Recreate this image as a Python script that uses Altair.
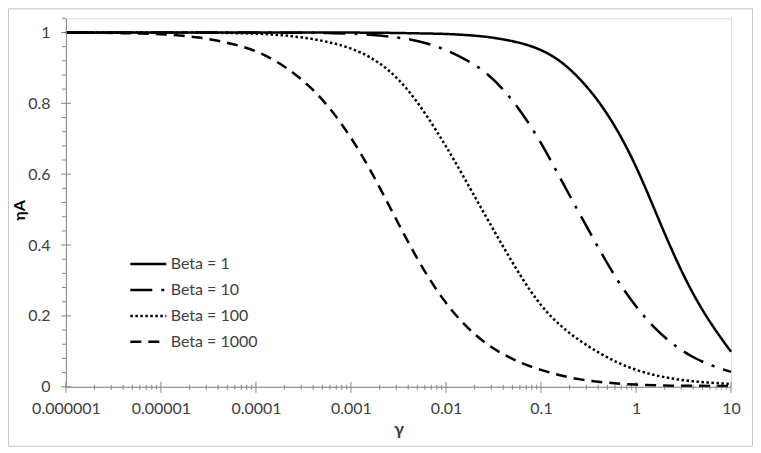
import altair as alt
import pandas as pd

# log10(gamma) grid shared by all series
log_gamma = [-6.0, -5.8, -5.6, -5.4, -5.2, -5.0, -4.8, -4.6, -4.4, -4.2,
             -4.0, -3.8, -3.6, -3.4, -3.2, -3.0, -2.8, -2.6, -2.4, -2.2,
             -2.0, -1.8, -1.6, -1.4, -1.2, -1.0, -0.8, -0.6, -0.4, -0.2,
             0.0, 0.2, 0.4, 0.6, 0.8, 1.0]

eta_beta1 = [1.0, 1.0, 1.0, 1.0, 1.0, 1.0, 1.0, 1.0, 1.0, 1.0,
             1.0, 1.0, 1.0, 1.0, 1.0, 1.0, 0.999, 0.999, 0.998, 0.997,
             0.996, 0.993, 0.989, 0.981, 0.970, 0.952, 0.922, 0.873, 0.810, 0.728,
             0.625, 0.497, 0.370, 0.260, 0.172, 0.099]

eta_beta10 = [1.0, 1.0, 1.0, 1.0, 1.0, 1.0, 1.0, 1.0, 1.0, 1.0,
              1.0, 1.0, 0.999, 0.999, 0.998, 0.997, 0.994, 0.989, 0.982, 0.970,
              0.951, 0.925, 0.893, 0.842, 0.774, 0.690, 0.590, 0.491, 0.394, 0.300,
              0.225, 0.163, 0.117, 0.082, 0.059, 0.042]

eta_beta100 = [1.0, 1.0, 1.0, 1.0, 1.0, 1.0, 1.0, 1.0, 0.999, 0.998,
               0.997, 0.994, 0.989, 0.982, 0.971, 0.956, 0.932, 0.895, 0.840, 0.765,
               0.680, 0.586, 0.490, 0.396, 0.305, 0.227, 0.172, 0.131, 0.097, 0.068,
               0.047, 0.032, 0.022, 0.015, 0.011, 0.008]

eta_beta1000 = [1.0, 1.0, 0.999, 0.998, 0.997, 0.995, 0.992, 0.986, 0.977, 0.965,
                0.948, 0.922, 0.886, 0.840, 0.780, 0.705, 0.615, 0.512, 0.408, 0.313,
                0.234, 0.172, 0.125, 0.091, 0.066, 0.047, 0.032, 0.021, 0.014, 0.009,
                0.006, 0.004, 0.003, 0.003, 0.002, 0.002]

series_names = ["Beta = 1", "Beta = 10", "Beta = 100", "Beta = 1000"]
series_values = [eta_beta1, eta_beta10, eta_beta100, eta_beta1000]

x_major = [0.000001, 0.00001, 0.0001, 0.001, 0.01, 0.1, 1, 10]
x_minor = [m * d for d in [0.000001, 0.00001, 0.0001, 0.001, 0.01, 0.1, 1] for m in range(2, 10)]
y_major = [0, 0.2, 0.4, 0.6, 0.8, 1.0]
y_minor = [round(0.04 * i, 2) for i in range(27) if i % 5 != 0]

rows = []
for name, vals in zip(series_names, series_values):
    for lg, v in zip(log_gamma, vals):
        rows.append({"gamma": 10 ** lg, "eta": v, "series": name})
df = pd.DataFrame(rows)

W, H = 666, 369
FONT = "Lato"
AXIS_GRAY = "#868686"
TEXT = "#404040"

xscale = alt.Scale(type="log", domain=[0.000001, 10], nice=False)
yscale = alt.Scale(domain=[0, 1.04], nice=False, zero=False)

xaxis = alt.Axis(values=x_major, format="~f", ticks=False, grid=False, zindex=1,
                 domainColor=AXIS_GRAY, labelFont=FONT, labelFontSize=16,
                 labelColor=TEXT, labelPadding=14, labelFlush=False,
                 labelOverlap=False,
                 title="γ", titleFont=FONT, titleFontSize=18, titleColor=TEXT,
                 titlePadding=4)
yaxis = alt.Axis(values=y_major, format="~g", ticks=False, grid=False, zindex=1,
                 domainColor=AXIS_GRAY, labelFont=FONT, labelFontSize=16,
                 labelColor=TEXT, labelPadding=16, labelFlush=False,
                 title="ηA", titleFont=FONT, titleFontSize=16, titleColor="black",
                 titleFontWeight="bold", titleX=-38, titleY=192)

border = alt.Chart(pd.DataFrame({"k": [0]})).mark_rect(
    fill="white", fillOpacity=0, stroke="#c6c6c6", strokeWidth=1
).encode(
    x=alt.value(-57.5), x2=alt.value(W + 21.5),
    y=alt.value(-9.5), y2=alt.value(H + 59.5)
)

lines = alt.Chart(df).mark_line(color="black", strokeWidth=2.5, strokeCap="butt", interpolate="basis").encode(
    x=alt.X("gamma:Q", scale=xscale, axis=xaxis),
    y=alt.Y("eta:Q", scale=yscale, axis=yaxis),
    strokeDash=alt.StrokeDash("series:N",
                              scale=alt.Scale(domain=series_names,
                                              range=[[1, 0], [22, 9, 3, 9], [2.5, 2.5], [11, 7]]),
                              legend=alt.Legend(title=None, orient="none", legendX=63, legendY=233,
                                                symbolType="stroke", symbolSize=1296,
                                                symbolStrokeWidth=2.5, symbolStrokeColor="black",
                                                labelFont=FONT, labelFontSize=16, labelColor=TEXT,
                                                labelOffset=3, rowPadding=0, clipHeight=26,
                                                padding=0)),
    detail="series:N",
)

xmaj = alt.Chart(pd.DataFrame({"v": x_major})).mark_rule(color=AXIS_GRAY, strokeWidth=1).encode(
    x=alt.X("v:Q", scale=xscale, axis=xaxis), y=alt.value(H - 5), y2=alt.value(H + 6))
xmin = alt.Chart(pd.DataFrame({"v": x_minor})).mark_rule(color=AXIS_GRAY, strokeWidth=1).encode(
    x=alt.X("v:Q", scale=xscale, axis=xaxis), y=alt.value(H - 2), y2=alt.value(H + 3))
ymaj = alt.Chart(pd.DataFrame({"v": y_major})).mark_rule(color=AXIS_GRAY, strokeWidth=1).encode(
    y=alt.Y("v:Q", scale=yscale, axis=yaxis), x=alt.value(-5), x2=alt.value(5))
ymin = alt.Chart(pd.DataFrame({"v": y_minor})).mark_rule(color=AXIS_GRAY, strokeWidth=1).encode(
    y=alt.Y("v:Q", scale=yscale, axis=yaxis), x=alt.value(-4), x2=alt.value(0))

chart = alt.layer(border, xmin, xmaj, ymin, ymaj, lines).properties(
    width=W, height=H,
    autosize=alt.AutoSizeParams(type="none"),
    padding={"left": 58, "top": 10, "right": 22, "bottom": 60},
).configure_view(stroke=None).configure(background="white")

chart.save("out.html", embed_options={"renderer": "svg", "actions": False})
